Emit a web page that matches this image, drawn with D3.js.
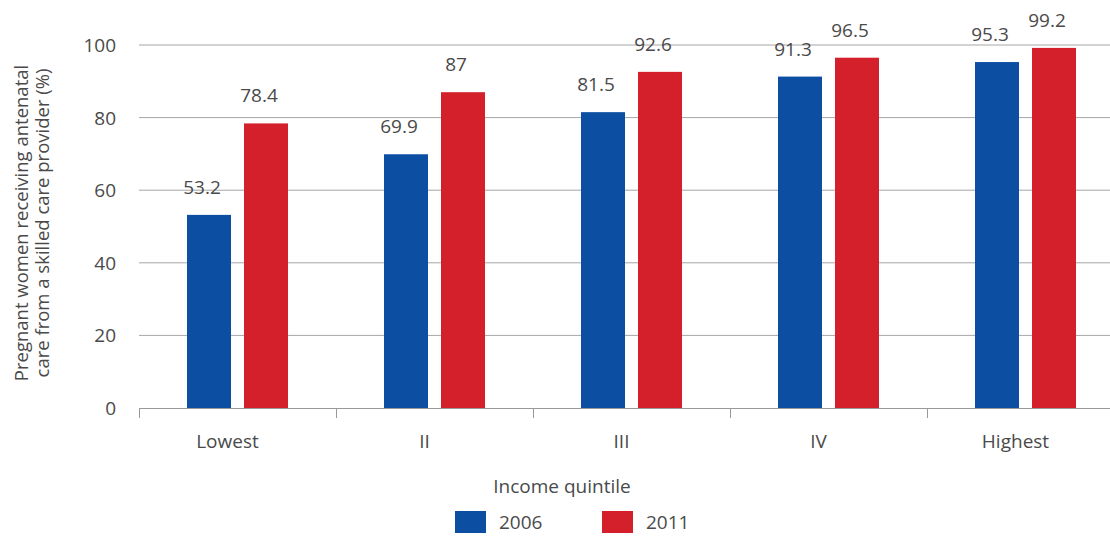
<!DOCTYPE html>
<html>
<head>
<meta charset="utf-8">
<script src="https://cdn.jsdelivr.net/npm/d3@7"></script>
<style>
  body { margin: 0; background: #fff; }
  svg text { font-family: "Open Sans", sans-serif; fill: #4a4a4a; }
</style>
</head>
<body>
<svg id="chart" width="1110" height="537"></svg>
<script>
// data
const categories = ["Lowest", "II", "III", "IV", "Highest"];
const years = ["2006", "2011"];
const values2006 = [53.2, 69.9, 81.5, 91.3, 95.3];
const values2011 = [78.4, 87, 92.6, 96.5, 99.2];
const yTicks = [0, 20, 40, 60, 80, 100];
const colors = { "2006": "#0b4ea2", "2011": "#d4202a" };

const svg = d3.select("#chart");

const x0 = d3.scaleBand().domain(categories).range([139, 1124]);
const x1 = d3.scaleBand().domain(years)
    .range([0, x0.bandwidth()])
    .paddingInner(0.228)
    .paddingOuter(0.842);
const y = d3.scaleLinear().domain([0, 100]).range([408, 45]);

// gridlines
svg.append("g")
    .selectAll("line")
    .data(yTicks.filter(d => d > 0))
    .join("line")
    .attr("x1", 139).attr("x2", 1124)
    .attr("y1", d => y(d)).attr("y2", d => y(d))
    .attr("stroke", "#a6a6a6").attr("stroke-width", 1);

// y tick labels
svg.append("g")
    .selectAll("text")
    .data(yTicks)
    .join("text")
    .attr("x", 116)
    .attr("y", d => y(d) + 7)
    .attr("text-anchor", "end")
    .style("font-size", "19px")
    .text(d => d);

// bars
const rows = categories.map((c, i) => ({ cat: c, vals: [
    { year: "2006", v: values2006[i] },
    { year: "2011", v: values2011[i] }
]}));

const groups = svg.append("g")
    .selectAll("g")
    .data(rows)
    .join("g")
    .attr("transform", d => `translate(${x0(d.cat)},0)`);

groups.selectAll("rect")
    .data(d => d.vals)
    .join("rect")
    .attr("x", d => x1(d.year))
    .attr("width", x1.bandwidth())
    .attr("y", d => y(d.v))
    .attr("height", d => y(0) - y(d.v))
    .attr("fill", d => colors[d.year]);

groups.selectAll("text")
    .data(d => d.vals)
    .join("text")
    .attr("x", d => x1(d.year) + x1.bandwidth() / 2 - 7)
    .attr("y", d => y(d.v) - 21)
    .attr("text-anchor", "middle")
    .style("font-size", "19px")
    .text(d => d.v);

// x axis line + ticks
const axis = svg.append("g");
axis.append("line")
    .attr("x1", 139).attr("x2", 1124)
    .attr("y1", 408.5).attr("y2", 408.5)
    .attr("stroke", "#999");
axis.selectAll(".tick")
    .data(categories.map(c => x0(c)).concat([x0.range()[1]]))
    .join("line")
    .attr("class", "tick")
    .attr("x1", d => d + 0.5).attr("x2", d => d + 0.5)
    .attr("y1", 408).attr("y2", 418)
    .attr("stroke", "#999");

axis.selectAll("text")
    .data(categories)
    .join("text")
    .attr("x", d => x0(d) + x0.bandwidth() / 2 - 10)
    .attr("y", 448)
    .attr("text-anchor", "middle")
    .style("font-size", "19px")
    .text(d => d);

// axis titles
svg.append("text")
    .attr("x", 562).attr("y", 493)
    .attr("text-anchor", "middle")
    .style("font-size", "19px")
    .text("Income quintile");

const yTitle = svg.append("text")
    .attr("transform", "translate(28,223) rotate(-90)")
    .attr("text-anchor", "middle")
    .style("font-size", "18.5px");
yTitle.append("tspan").attr("x", 0).attr("dy", 0).text("Pregnant women receiving antenatal");
yTitle.append("tspan").attr("x", 0).attr("dy", 21).text("care from a skilled care provider (%)");

// legend
const legendX = [455, 602];
const legend = svg.append("g")
    .selectAll("g")
    .data(years)
    .join("g")
    .attr("transform", (d, i) => `translate(${legendX[i]},511)`);
legend.append("rect")
    .attr("width", 31).attr("height", 22)
    .attr("fill", d => colors[d]);
legend.append("text")
    .attr("x", 44).attr("y", 18)
    .style("font-size", "19px")
    .text(d => d);
</script>
</body>
</html>
